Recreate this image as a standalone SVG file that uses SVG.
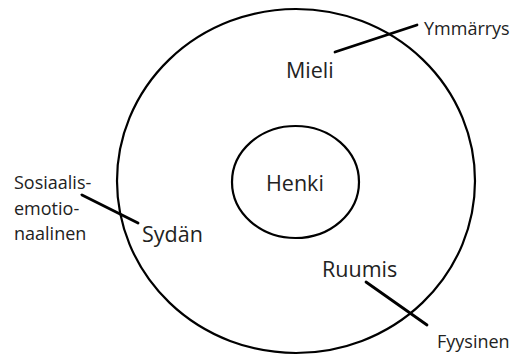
<svg xmlns="http://www.w3.org/2000/svg" width="514" height="356" viewBox="0 0 514 356">
<style>
.ring{fill:none;stroke:#000;stroke-width:2.2}
.big{font-family:"Open Sans","Noto Sans",sans-serif;font-size:21.5px;fill:#222}
.small{font-family:"Open Sans","Noto Sans",sans-serif;font-size:18px;fill:#222}
.lead{stroke:#000;stroke-width:2.8;stroke-linecap:round}
</style>
<rect width="514" height="356" fill="#fff"/>
<g id="outer">
<ellipse class="ring" cx="296" cy="181" rx="179" ry="172"/>
<text class="big" x="286" y="78">Mieli</text>
<text class="big" x="142" y="242">Sydän</text>
<text class="big" x="322" y="277">Ruumis</text>
</g>
<g id="henki">
<ellipse class="ring" cx="295.5" cy="182" rx="63.5" ry="56"/>
<text class="big" x="266" y="191">Henki</text>
</g>
<g id="ymmarrys"><text class="small" x="424" y="35">Ymmärrys</text></g>
<g id="sosiaalis"><text class="small" x="14" y="189">Sosiaalis-</text><text class="small" x="14" y="215">emotio-</text><text class="small" x="14" y="240">naalinen</text></g>
<g id="fyysinen"><text class="small" x="437" y="348">Fyysinen</text></g>
<g id="connectors">
<line class="lead" x1="417" y1="25" x2="335" y2="52"/>
<line class="lead" x1="82" y1="195" x2="138" y2="223"/>
<line class="lead" x1="366" y1="282" x2="427" y2="325"/>
</g>
</svg>
